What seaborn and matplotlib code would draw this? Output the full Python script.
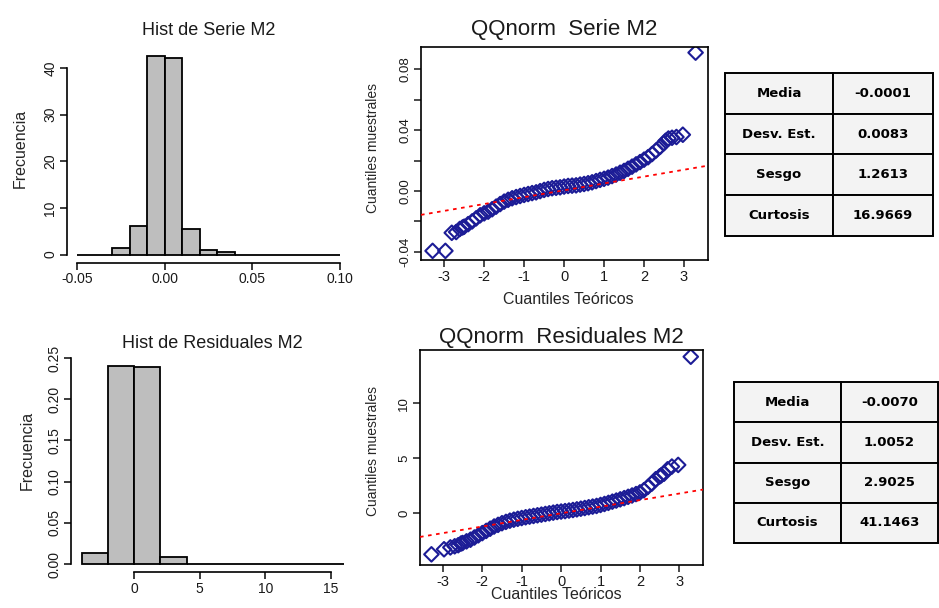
import matplotlib
matplotlib.use("Agg")
import matplotlib.pyplot as plt
import seaborn as sns
import pandas as pd

# ---- data ----
serie_edges = [-0.05, -0.04, -0.03, -0.02, -0.01, 0.00, 0.01, 0.02, 0.03,
               0.04, 0.05, 0.06, 0.07, 0.08, 0.09, 0.10]
serie_freq = [0, 0, 1.4, 6.2, 42.5, 42.1, 5.4, 0.9, 0.5, 0, 0, 0, 0, 0, 0]

resid_edges = [-4, -2, 0, 2, 4, 6, 8, 10, 12, 14, 16]
resid_freq = [0.013, 0.2407, 0.2387, 0.008, 0, 0, 0, 0, 0, 0]

# theoretical quantiles and sample quantiles (QQ plots)
qq_teo = [-3.29, -2.97, -2.81, -2.70, -2.61, -2.54,
          -2.5, -2.4, -2.3, -2.2, -2.1, -2.0, -1.9, -1.8, -1.7, -1.6,
          -1.5, -1.4, -1.3, -1.2, -1.1, -1.0, -0.9, -0.8, -0.7, -0.6,
          -0.5, -0.4, -0.3, -0.2, -0.1, 0.0, 0.1, 0.2, 0.3, 0.4,
          0.5, 0.6, 0.7, 0.8, 0.9, 1.0, 1.1, 1.2, 1.3, 1.4,
          1.5, 1.6, 1.7, 1.8, 1.9, 2.0, 2.1, 2.2, 2.3, 2.4, 2.5,
          2.54, 2.61, 2.70, 2.81, 2.97, 3.29]
qq_serie = [-0.0394, -0.0394, -0.0275, -0.027, -0.025, -0.024,
            -0.0235, -0.0218, -0.020, -0.018, -0.016, -0.0147, -0.0136, -0.012, -0.0103, -0.0086,
            -0.007, -0.0058, -0.0048, -0.004, -0.0033, -0.0026, -0.002, -0.0014, -0.0009, -0.0001,
            0.0007, 0.0013, 0.0018, 0.0021, 0.0024, 0.0029, 0.0033, 0.0035, 0.0037, 0.0042,
            0.0046, 0.0051, 0.0057, 0.0065, 0.0073, 0.008, 0.0088, 0.0098, 0.0108, 0.012,
            0.0132, 0.0146, 0.016, 0.0175, 0.019, 0.0206, 0.0222, 0.0243, 0.0266, 0.029, 0.0315,
            0.033, 0.0345, 0.035, 0.0355, 0.037, 0.091]
qq_resid = [-3.73, -3.27, -3.1, -3.0, -2.9, -2.75,
            -2.7, -2.55, -2.4, -2.2, -2.0, -1.8, -1.6, -1.4, -1.2, -1.05,
            -0.9, -0.78, -0.67, -0.58, -0.5, -0.43, -0.36, -0.3, -0.24, -0.18,
            -0.12, -0.06, 0.0, 0.06, 0.12, 0.16, 0.2, 0.25, 0.3, 0.36,
            0.42, 0.48, 0.55, 0.61, 0.67, 0.76, 0.85, 0.95, 1.06, 1.16,
            1.27, 1.38, 1.5, 1.62, 1.75, 1.9, 2.1, 2.4, 2.7, 3.1, 3.35,
            3.45, 3.6, 4.0, 4.25, 4.4, 14.24]

# qqline: (intercept, slope)
qqline_serie = (0.00044, 0.00451)
qqline_resid = (0.0, 0.60)

stat_names = ["Media", "Desv. Est.", "Sesgo", "Curtosis"]
stats_serie = ["-0.0001", "0.0083", "1.2613", "16.9669"]
stats_resid = ["-0.0070", "1.0052", "2.9025", "41.1463"]

# ---- layout ----
W, H = 939, 608
sns.set_style("ticks")
plt.rcParams['font.family'] = ['Liberation Sans', 'DejaVu Sans']
plt.rcParams['text.color'] = '#1a1a1a'
plt.rcParams['xtick.color'] = '#1a1a1a'
plt.rcParams['ytick.color'] = '#1a1a1a'

fig = plt.figure(figsize=(W / 100, H / 100), dpi=100)


def px_rect(left, top, right, bottom):
    return [left / W, 1 - bottom / H, (right - left) / W, (bottom - top) / H]


def draw_hist(rect, edges, freq, title, xticks, xfmt, yticks, yfmt, xlim, ylim,
              lab_xy, pad):
    ax = fig.add_axes(rect)
    centers = [(a + b) / 2 for a, b in zip(edges[:-1], edges[1:])]
    sns.histplot(x=centers, weights=freq, bins=edges, ax=ax, color='#bebebe',
                 edgecolor='black', linewidth=1.3, alpha=1)
    ax.set_xlim(xlim)
    ax.set_ylim(ylim)
    ax.set_xticks(xticks)
    ax.set_xticklabels([xfmt.format(v) for v in xticks], fontsize=10)
    ax.set_yticks(yticks)
    ax.set_yticklabels([yfmt.format(v) for v in yticks], fontsize=10,
                       rotation=90, va='center')
    sns.despine(ax=ax)
    ax.spines['left'].set_bounds(yticks[0], yticks[-1])
    ax.spines['bottom'].set_bounds(xticks[0], xticks[-1])
    for s in ['left', 'bottom']:
        ax.spines[s].set_linewidth(1.2)
        ax.spines[s].set_color('black')
    ax.tick_params(length=5, width=1.2, pad=2)
    ax.set_title(title, fontsize=13, pad=pad)
    ax.set_xlabel('')
    ax.set_ylabel('Frecuencia', fontsize=11.5)
    ax.yaxis.set_label_coords(*lab_xy)
    ax.patch.set_alpha(0)
    return ax


def draw_qq(rect, teo, vals, line, title, yticks, ylabels, ylim, ylab_xy,
            xlab_xy, pad, tsize):
    ax = fig.add_axes(rect)
    df = pd.DataFrame({'teo': teo, 'mues': vals})
    ax.axline((0, line[0]), slope=line[1], color='red', lw=1.3,
              linestyle=(0, (2, 2.5)), zorder=3)
    sns.scatterplot(data=df, x='teo', y='mues', ax=ax, marker='D', s=55,
                    color='#1c1c96', facecolor='none', edgecolor='#1c1c96',
                    linewidth=1.5, zorder=2)
    ax.set_xlim(-3.58, 3.6)
    ax.set_ylim(ylim)
    ax.set_xticks([-3, -2, -1, 0, 1, 2, 3])
    ax.set_xticklabels(['-3', '-2', '-1', '0', '1', '2', '3'], fontsize=10.5)
    ax.set_yticks(yticks)
    ax.set_yticklabels(ylabels, fontsize=9.5, rotation=90, va='center')
    for s in ax.spines.values():
        s.set_linewidth(1.2)
        s.set_color('black')
    ax.tick_params(length=5, width=1.1, pad=2)
    ax.set_title(title, fontsize=tsize, pad=pad)
    ax.set_xlabel('Cuantiles Teóricos', fontsize=11.5)
    ax.set_ylabel('Cuantiles muestrales', fontsize=10)
    ax.xaxis.set_label_coords(*xlab_xy)
    ax.yaxis.set_label_coords(*ylab_xy)
    return ax


def draw_table(rect, names, values, col_split):
    ax = fig.add_axes(rect)
    ax.axis('off')
    tab = ax.table(cellText=[[n, v] for n, v in zip(names, values)],
                   cellLoc='center', bbox=[0, 0, 1, 1],
                   colWidths=[col_split, 1 - col_split])
    tab.auto_set_font_size(False)
    for (r, c), cell in tab.get_celld().items():
        cell.set_facecolor('#f3f3f3')
        cell.set_edgecolor('black')
        cell.set_linewidth(1.4)
        cell.get_text().set_fontsize(9.5)
        cell.get_text().set_fontweight('bold')
        cell.get_text().set_fontfamily('DejaVu Sans')
        cell.get_text().set_color('black')
    return ax


# top row
draw_hist(px_rect(67, 48.5, 350, 262.5), serie_edges, serie_freq,
          'Hist de Serie M2', [-0.05, 0.00, 0.05, 0.10], '{:.2f}',
          [0, 10, 20, 30, 40], '{:d}', (-0.056, 0.106), (-1.7, 44.2),
          (-0.138, 0.535), 10)
draw_qq(px_rect(421, 47, 708, 260), qq_teo, qq_serie, qqline_serie,
        'QQnorm  Serie M2',
        [-0.04, -0.02, 0.0, 0.02, 0.04, 0.06, 0.08],
        ['-0.04', '', '0.00', '', '0.04', '', '0.08'],
        (-0.0454, 0.0947), (-0.143, 0.526), (0.512, -0.15), 8.5, 16)
draw_table(px_rect(725, 73, 933, 236), stat_names, stats_serie, 0.52)

# bottom row
draw_hist(px_rect(71, 357.7, 354.6, 572), resid_edges, resid_freq,
          'Hist de Residuales M2', [0, 5, 10, 15], '{:d}',
          [0.00, 0.05, 0.10, 0.15, 0.20, 0.25], '{:.2f}',
          (-4.8, 16.8), (-0.0096, 0.2503), (-0.127, 0.565), 7)
draw_qq(px_rect(420, 350, 703, 565), qq_teo, qq_resid, qqline_resid,
        'QQnorm  Residuales M2', [0, 5, 10], ['0', '5', '10'],
        (-4.7, 14.85), (-0.141, 0.53), (0.482, -0.102), 5, 16)
draw_table(px_rect(734, 382, 938, 543), stat_names, stats_resid, 0.525)

fig.savefig('out.png', dpi=100)
